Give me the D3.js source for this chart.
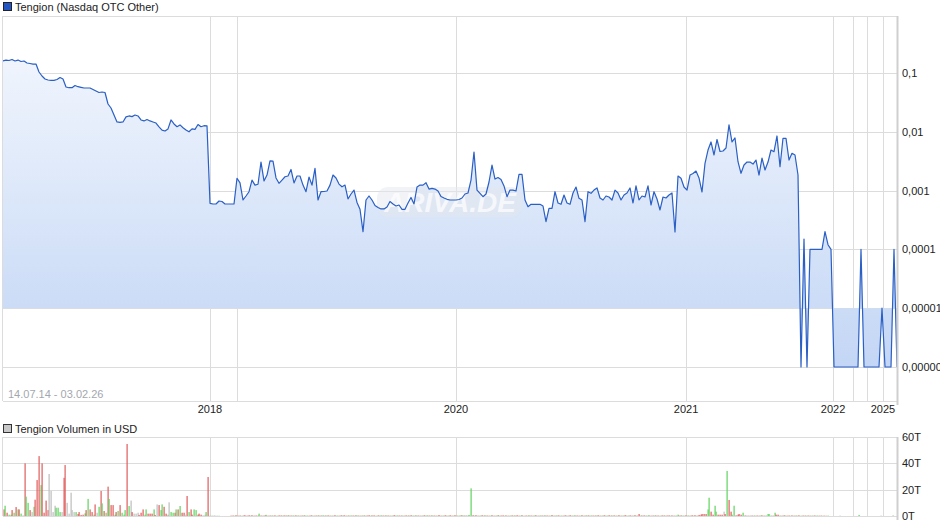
<!DOCTYPE html>
<html><head><meta charset="utf-8">
<script src="https://cdn.jsdelivr.net/npm/d3@7"></script>
<style>html,body{margin:0;padding:0;background:#fff;overflow:hidden}svg{display:block;font-family:"Liberation Sans",Arial,sans-serif}</style>
</head><body><svg id="c" width="940" height="526"></svg>
<script>
// ---------- DATA ----------
const titlePrice = "Tengion (Nasdaq OTC Other)";
const titleVolume = "Tengion Volumen in USD";
const dateRange = "14.07.14 - 03.02.26";
const prices = [
0.160,0.166,0.163,0.170,0.160,0.166,0.157,0.160,0.148,0.145,
0.142,0.142,0.104,0.0889,0.0791,0.0761,0.0751,0.0751,0.0775,0.0839,
0.0791,0.0578,0.0562,0.0562,0.0613,0.0585,0.0571,0.0556,0.0556,0.0556,
0.0524,0.0494,0.0466,0.0475,0.0466,0.0297,0.0254,0.0193,0.0147,0.0145,
0.0147,0.0179,0.0186,0.0181,0.0193,0.0186,0.0159,0.0153,0.0162,0.0153,
0.0147,0.0141,0.0121,0.0107,0.0103,0.0112,0.0159,0.0136,0.0122,0.0131,
0.0117,0.0107,0.0100,0.0112,0.0110,0.0133,0.0122,0.0127,0.0126,0.000608,
0.000592,0.000592,0.000665,0.000653,0.000592,0.000592,0.000592,0.000592,0.00162,0.00135,
0.000692,0.000809,0.000957,0.00151,0.00124,0.00128,0.00306,0.00146,0.00184,0.00321,
0.00318,0.00164,0.00133,0.00151,0.00172,0.00177,0.00229,0.00135,0.00177,0.00177,
0.00124,0.000957,0.00170,0.00124,0.00239,0.000692,0.000957,0.000966,0.000985,0.00124,
0.00184,0.00164,0.00129,0.00116,0.00124,0.000720,0.000875,0.00102,0.000628,0.000481,
0.000200,0.000692,0.000809,0.000692,0.000558,0.000516,0.000487,0.000487,0.000526,0.000653,
0.000592,0.000547,0.000569,0.000481,0.000481,0.000615,0.000764,0.000592,0.00115,0.00124,
0.00124,0.00136,0.00106,0.00109,0.00106,0.000985,0.000794,0.000748,0.000711,0.000692,
0.000692,0.000692,0.000706,0.000748,0.000875,0.000910,0.00151,0.00453,0.00102,0.000899,
0.000788,0.000875,0.00140,0.00272,0.00157,0.00167,0.00155,0.00120,0.000788,0.00102,
0.00102,0.000985,0.00189,0.00189,0.000692,0.000532,0.000585,0.000585,0.000585,0.000585,
0.000547,0.000296,0.000500,0.000500,0.000957,0.000615,0.000585,0.000841,0.000615,0.000585,
0.000910,0.00115,0.000740,0.000692,0.000296,0.000957,0.000899,0.00102,0.00111,0.000748,
0.000692,0.000809,0.000778,0.000692,0.00102,0.000910,0.000692,0.000841,0.000910,0.00111,
0.000615,0.00120,0.000692,0.000809,0.000778,0.00120,0.000569,0.000957,0.000720,0.000468,
0.000778,0.000748,0.000841,0.000910,0.000198,0.00177,0.00162,0.00115,0.00102,0.00184,
0.00195,0.00215,0.00164,0.000946,0.00291,0.00490,0.00671,0.00403,0.00740,0.00462,
0.00471,0.00530,0.0131,0.00671,0.00785,0.00310,0.00197,0.00272,0.00306,0.00306,
0.00283,0.00331,0.00184,0.00358,0.00224,0.00306,0.00490,0.00459,0.00849,0.00255,
0.00775,0.00775,0.00331,0.00431,0.00403,0.00184,0.000001,0.00015,0.000001,0.0001,
0.0001,0.0001,0.0001,0.0001,0.0002,0.00012,0.0001,0.000001,0.000001,0.000001,
0.000001,0.000001,0.000001,0.000001,0.000001,0.000001,0.0001,0.000001,0.000001,0.000001,
0.000001,0.000001,0.000001,0.00001,0.000001,0.000001,0.000001,0.0001,0.000001
];
// volume in thousands USD (T)
const volumes = [
5,7.8,2.5,1,1,4.5,2.5,6.8,5,5,
1.8,0.5,40,14.7,10,4.5,3,7,12.4,27.3,
45.5,23.5,40,2.5,11.7,4.5,31.9,19,3,7.8,
6.3,6.3,3,3,29,38.7,10,1.8,17.7,4.5,
3,3,1.5,3,0.8,1,2,4.5,13,5,
3,1,8.8,2.5,7,19,9.6,3.8,2.5,22.3,
13,8.3,8.3,1,3,3.8,8.3,2.5,1,4.5,
54.7,7.6,11.7,3,1.8,1.8,2.5,0.8,2.5,5,
1,5,1.8,1.8,1.8,5,0.8,8.8,8.3,4.5,
8.8,7,1.8,1,10.4,3,2.5,2.5,5,5,
7.6,2.5,2.5,1,15.2,3,5,1,5,4.5,
1,1.8,1,0.5,1,3,29.6,
0.4,0.3,0.4,0.3,0.3,0.2,0,0,0,0,
0,0,0.3,0.4,0.3,0.5,0.3,0.4,0.3,0.5,
0.4,0.3,0.6,0.4,0.5,0.3,0.4,0.3,1.8,0.4,
0.3,0.5,0.9,0.3,0.4,0.5,0.3,0.4,0.3,0.5,
0.4,0.3,0.5,0.4,0.6,0.3,0.4,0.5,0.3,0.4,
0.5,0.3,0.4,0.6,0.3,0.4,0.3,0.5,0.4,0.3,
0.4,0.5,0.3,0.4,0.6,0.3,0.4,0.5,0.3,0.4,
0.3,0.5,0.4,0.3,0.5,0.4,0.6,0.3,0.4,0.3,
0.5,0.4,0.3,0.6,0.4,0.3,0.5,0.4,0.3,0.4,
0.6,0.3,0.4,0.5,0.3,0.4,0.3,0.6,0.4,0.3,
0.5,0.4,0.3,0.4,0.6,0.3,0.5,0.4,0.3,0.4,
0.3,0.5,0.4,0.3,0.6,0.4,0.3,0.5,0.4,0.3,
0.4,0.5,0.3,0.6,0.4,0.3,0.5,0.4,0.3,0.4,
0.6,0.3,0.4,0.5,0.3,0.4,0.6,0.3,0.4,0.5,
0.3,0.4,0.5,0.6,0.4,0.5,0.3,0.8,21,0.6,
0.4,0.5,0.3,0.4,0.6,0.3,0.5,0.4,0.3,0.4,
0.5,0.3,0.4,0.6,0.3,0.4,0.5,0.3,0.4,0.3,
0.4,0.5,0.3,0.4,0.6,0.3,0.4,0.5,0.3,0.4,
0.3,0.5,0.4,0.3,0.6,0.4,0.3,0.5,0.4,0.3,
0.5,0.4,0.3,0.4,0.6,0.3,0.5,0.4,0.3,0.4,
0.3,0.5,0.4,0.3,0.6,0.4,0.3,0.5,0.4,0.3,
0.4,0.5,0.3,0.6,0.4,0.3,0.5,0.4,0.3,0.4,
0.6,0.3,0.4,0.5,0.3,0.4,0.6,0.3,0.4,0.5,
0.3,0.4,0.5,0.3,0.4,0.6,0.3,0.4,0.5,0.3,
0.4,0.5,0.3,1.5,0.4,0.3,0.5,0.4,0.3,0.6,
0.3,0.4,0.5,0.3,0.4,0.3,0.5,0.4,0.3,0.4,
0.5,0.3,0.4,0.3,0.4,1,0.3,0.5,0.4,0.3,
0.4,0.5,0.3,0.6,0.4,0.5,0.3,0.8,1,1.5,
1.5,1.5,5,13.9,3.3,1,7.8,3.3,1,1,
1,3.3,1.5,34.2,12.2,3.3,1,7.8,0.5,1,
1.5,1,2.5,0.4,0.5,0.3,0.5,0.4,0.5,0.3,
0.4,0.3,0.5,0.4,0.3,0.4,1.5,1.5,0.4,0.3,
2.5,1,1,0.4,0.3,0.5,0.4,0.3,0.4,0.3,
0.4,0.3,0.5,0.3,0.4,0.3,0.4,0.3,0.3,0.4,
0.3,0.4,0.3,0.3,0.4,0.3,0.3,0.2,0.3,0.2,
0.3,0,0,0,0,0,0,0.3,0,0,
0,0,0,0,0,0,0,0,0.8,0,
0,0,0,0,0,0,0,0,0,0,
0.3,0,0,0,0,0,0,0.4,0,0
];
// r = down day, g = up day, n = unchanged
const volumeDirs = (
"rgrggrgrgr"+"gnrggrngrr"+"rgrrrrnnnn"+"gggnrrnnnn"+"ngrrrrgrgr"+"rgrngrgrgr"+"grrgrgrggg"+"rgnrnnnrrr"+"ggrrrgrnrg"+"grrgnggrgr"+"grrnrgrrgg"+"rrrnngr"+
"ngnnngnnnn"+"nnrrgrrrgr"+"rrrgrrrrgr"+"rrgrrgrrgr"+"rgrrgrrgrr"+"grrgrgrrgr"+"rgrrgrgrrg"+"rrgrrgrrgr"+
"grrgrrgrgr"+"rgrrgrrgrr"+"grrgrrgrrg"+"rrgrrgrgrr"+"grrgrrgrrg"+"rrgrrgrrgr"+"rgrgrgrggr"+"grrgrrgrrg"+
"rrgrgrrgrr"+"grrgrrgrgr"+"rgrrgrrgrr"+"grrgrrgrrg"+"rrgrrgrgrr"+"grrgrrgrrg"+"rrgrrgrrgr"+"rgrrgrrgrr"+
"grrrgrrgrg"+"rrgrrgrrgr"+"rgrrggrrgr"+"rgrrgrrrrr"+"rrggrrggrr"+"rnrgrrggrr"+"rrgrnrnrng"+"rrgrrggggr"+
"grrgrrgrrg"+"rrgrrgrrgr"+"rgrrgrrgrr"+"gnnnnnnnnn"+"nnnnnnnngn"+"nnnnnnnnnn"+"nnnnnnngnn"
).split("");
const yearLabels = ["2018","2019","2020","2021","2022","2023","2024","2025"];
const yearIndex  = [69, 78, 151, 227.7, 276.7, 283.3, 288, 293.3];
const yearShown  = [true, false, true, true, true, false, false, true];
const priceTicks = [0.1, 0.01, 0.001, 0.0001, 0.00001, 0.000001];
const priceTickLabels = ["0,1","0,01","0,001","0,0001","0,00001","0,000001"];
const volTicks = [0, 20, 40, 60];
const volTickLabels = ["0T","20T","40T","60T"];

// ---------- LAYOUT ----------
const L = 3, R = 897;
const pTop = 16, pBot = 401;
const vTop = 437, vBot = 516;
const grid = "#dcdcdc";
const svg = d3.select("#c");

const x = d3.scaleLinear().domain([0, prices.length - 1]).range([L, R]);
const y = d3.scaleLog().domain([2.64e-7, 0.932]).range([pBot, pTop]);
const xv = d3.scaleLinear().domain([0, volumes.length - 1]).range([L + 0.5, R - 0.5]);
const yv = d3.scaleLinear().domain([0, 60]).range([vBot, vTop]);

const defs = svg.append("defs");
const grad = defs.append("linearGradient").attr("id","fillg")
  .attr("gradientUnits","userSpaceOnUse").attr("x1",0).attr("x2",0).attr("y1",pTop).attr("y2",y(1e-6));
grad.append("stop").attr("offset","0").attr("stop-color","#f6f9fe");
grad.append("stop").attr("offset","1").attr("stop-color","#c3d6f5");
defs.append("clipPath").attr("id","pclip").append("rect").attr("x",L).attr("y",pTop).attr("width",R-L).attr("height",pBot-pTop);

// ---------- PRICE PANEL ----------
svg.append("rect").attr("x",3.5).attr("y",2.5).attr("width",8).attr("height",8).attr("fill","#2356c2").attr("stroke","#222").attr("stroke-width",1);
svg.append("text").attr("x",15).attr("y",10.5).attr("font-size",11).attr("fill","#222").text(titlePrice);

const gp = svg.append("g");
gp.selectAll("line.h").data(priceTicks).join("line")
  .attr("x1",L).attr("x2",R).attr("y1",d=>Math.round(y(d))+0.5).attr("y2",d=>Math.round(y(d))+0.5)
  .attr("stroke",grid);
gp.selectAll("line.v").data(yearIndex).join("line")
  .attr("x1",d=>Math.round(x(d))+0.5).attr("x2",d=>Math.round(x(d))+0.5).attr("y1",pTop).attr("y2",pBot)
  .attr("stroke",grid);

const area = d3.area().x((d,i)=>x(i)).y0(y(1e-5)).y1(d=>y(d));
const line = d3.line().x((d,i)=>x(i)).y(d=>y(d));
const plot = svg.append("g").attr("clip-path","url(#pclip)");
plot.append("path").datum(prices).attr("d",area).attr("fill","url(#fillg)");

plot.append("rect").attr("x",377).attr("y",187).attr("width",145).attr("height",30).attr("rx",11)
  .attr("fill","#e4e8ee").attr("opacity",0.5);
plot.append("text").attr("x",450).attr("y",212).attr("text-anchor","middle")
  .attr("font-size",28).attr("font-weight","bold").attr("font-style","italic")
  .attr("fill","#ffffff").attr("opacity",0.7).text("ARIVA.DE");

plot.append("path").datum(prices).attr("d",line).attr("fill","none")
  .attr("stroke","#2a5fc5").attr("stroke-width",1.2).attr("stroke-linejoin","round");

svg.append("line").attr("x1",L).attr("x2",R).attr("y1",pTop+0.5).attr("y2",pTop+0.5).attr("stroke",grid);
svg.append("line").attr("x1",L-0.5).attr("x2",L-0.5).attr("y1",pTop).attr("y2",pBot).attr("stroke",grid);
svg.append("line").attr("x1",L).attr("x2",R).attr("y1",pBot+0.5).attr("y2",pBot+0.5).attr("stroke",grid);
svg.append("line").attr("x1",R+0.5).attr("x2",R+0.5).attr("y1",pTop).attr("y2",pBot+4).attr("stroke","#cfcfcf").attr("stroke-width",2);

// y labels: as in the reference, the long ones run to the canvas edge
svg.selectAll("text.py").data(priceTicks).join("text").attr("class","py")
  .attr("x",902).attr("y",d=>y(d)+4).attr("font-size",11).attr("fill","#222")
  .text((d,i)=>priceTickLabels[i]);

svg.selectAll("text.px").data(yearIndex.filter((d,i)=>yearShown[i])).join("text").attr("class","px")
  .attr("x",d=>x(d)).attr("y",413).attr("text-anchor","middle").attr("font-size",11).attr("fill","#222")
  .text(d=>yearLabels[yearIndex.indexOf(d)]);

svg.append("text").attr("x",8).attr("y",398).attr("font-size",11).attr("fill","#a3a7ae").text(dateRange);

// ---------- VOLUME PANEL ----------
svg.append("rect").attr("x",3.5).attr("y",424.5).attr("width",8).attr("height",8).attr("fill","#c8c8c8").attr("stroke","#333").attr("stroke-width",1);
svg.append("text").attr("x",15).attr("y",432.5).attr("font-size",11).attr("fill","#222").text(titleVolume);

const gv = svg.append("g");
gv.selectAll("line.h").data(volTicks).join("line")
  .attr("x1",L).attr("x2",R).attr("y1",d=>Math.round(yv(d))+0.5).attr("y2",d=>Math.round(yv(d))+0.5)
  .attr("stroke",grid);
gv.selectAll("line.v").data(yearIndex).join("line")
  .attr("x1",d=>Math.round(x(d))+0.5).attr("x2",d=>Math.round(x(d))+0.5).attr("y1",vTop).attr("y2",vBot)
  .attr("stroke",grid);
svg.append("line").attr("x1",L-0.5).attr("x2",L-0.5).attr("y1",vTop).attr("y2",vBot).attr("stroke",grid);

const colorOf = {r:"#e05c5c", g:"#5fd35f", n:"#bdbdbd"};
gv.selectAll("rect.vb").data(volumes).join("rect").attr("class","vb")
  .attr("x",(d,i)=>Math.round(xv(i)) - 0.5).attr("width",1.2)
  .attr("y",d=>yv(d)).attr("height",d=>Math.max(0, vBot - yv(d)))
  .attr("fill",(d,i)=>colorOf[volumeDirs[i]] || colorOf.n);
svg.append("line").attr("x1",R+0.5).attr("x2",R+0.5).attr("y1",vTop).attr("y2",vBot+4).attr("stroke","#cfcfcf").attr("stroke-width",2);

svg.selectAll("text.vy").data(volTicks).join("text").attr("class","vy")
  .attr("x",902).attr("y",d=>yv(d)+4).attr("font-size",11).attr("fill","#222")
  .text((d,i)=>volTickLabels[i]);
</script></body></html>
